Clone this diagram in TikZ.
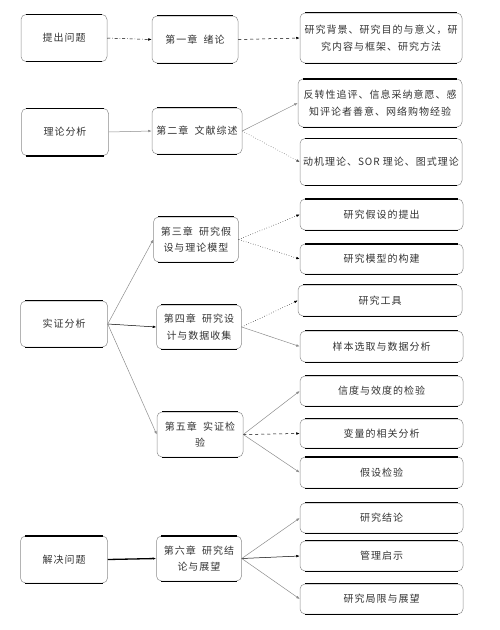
\documentclass[tikz,border=0pt]{standalone}
\usepackage{fontspec}
\setmainfont{Liberation Serif}
\newfontfamily\cjk[LetterSpace=10]{Noto Sans CJK SC}
\usetikzlibrary{arrows.meta,calc}
\tikzset{
  bx/.style={draw=black!45, line width=0.5pt, rounded corners=5pt, inner sep=0pt, align=center,
    font=\cjk\fontsize{10}{16.5}\selectfont, text=black!80},
  conn/.style={-{Latex[length=3.5pt,width=2.6pt]}, line width=0.5pt},
  gr/.style={conn, draw=black!45},
  bk/.style={conn, draw=black},
  dt/.style={conn, draw=black, dotted},
  ds/.style={conn, draw=black, dashed},
  dd/.style={conn, draw=black, dash dot},
}
\newcommand{\bxline}[3]{\draw[line width=#3] ($(#1.#2 west)+(5pt,0)$) -- ($(#1.#2 east)+(-5pt,0)$);}
\begin{document}
\begin{tikzpicture}[x=1pt,y=-1pt]
\useasboundingbox (0,0) rectangle (499,630);
% left column
\node[bx, minimum width=86pt, minimum height=47pt] (a1) at (64,38) {提出问题};
\node[bx, minimum width=87pt, minimum height=47pt] (a2) at (65,132) {理论分析};
\node[bx, minimum width=87pt, minimum height=46pt] (a3) at (64,324) {实证分析};
\node[bx, minimum width=87pt, minimum height=47pt] (a4) at (64,559.5) {解决问题};
% middle column
\node[bx, minimum width=86pt, minimum height=47pt] (c1) at (195,39.5) {第一章\ \ 绪论};
\node[bx, minimum width=90pt, minimum height=46pt] (c2) at (197,131) {第二章\ \ 文献综述};
\node[bx, minimum width=85pt, minimum height=45pt] (c3) at (196,239.5) {第三章\ \ 研究假\\设与理论模型};
\node[bx, minimum width=85pt, minimum height=44pt] (c4) at (199,327) {第四章\ \ 研究设\\计与数据收集};
\node[bx, minimum width=86pt, minimum height=45pt] (c5) at (200,434.5) {第五章\ \ 实证检\\验};
\node[bx, minimum width=85pt, minimum height=45pt] (c6) at (199,558.5) {第六章\ \ 研究结\\论与展望};
% right column
\node[bx, minimum width=162pt, minimum height=50pt] (r1) at (381,38) {研究背景、研究目的与意义，研\\究内容与框架、研究方法};
\node[bx, minimum width=164pt, minimum height=48pt] (r2) at (380,103) {反转性追评、信息采纳意愿、感\\知评论者善意、网络购物经验};
\node[bx, minimum width=162pt, minimum height=47pt] (r3) at (381,162) {动机理论、SOR 理论、图式理论};
\node[bx, minimum width=163pt, minimum height=31pt] (r4) at (381.5,214.5) {研究假设的提出};
\node[bx, minimum width=163pt, minimum height=30pt] (r5) at (381.5,259) {研究模型的构建};
\node[bx, minimum width=164pt, minimum height=31pt] (r6) at (380,300.5) {研究工具};
\node[bx, minimum width=163pt, minimum height=31pt] (r7) at (381.5,346.5) {样本选取与数据分析};
\node[bx, minimum width=163pt, minimum height=30pt] (r8) at (381.5,391) {信度与效度的检验};
\node[bx, minimum width=163pt, minimum height=29pt] (r9) at (381.5,433.5) {变量的相关分析};
\node[bx, minimum width=163pt, minimum height=31pt] (r10) at (381.5,472.5) {假设检验};
\node[bx, minimum width=163pt, minimum height=30pt] (r11) at (381.5,518) {研究结论};
\node[bx, minimum width=163pt, minimum height=30pt] (r12) at (381.5,556) {管理启示};
\node[bx, minimum width=163pt, minimum height=30pt] (r13) at (381.5,599) {研究局限与展望};
% black top/bottom edges of boxes
\foreach \n in {a1,a2,a3,a4,c1,c2,c3,c4,c5,c6,r1,r2,r3,r4,r5,r6,r7,r8,r9,r10,r11,r12,r13}{
  \bxline{\n}{north}{0.6pt}
  \bxline{\n}{south}{0.6pt}
}
\bxline{a2}{south}{1.5pt}
\bxline{c2}{south}{1.5pt}
\bxline{r2}{north}{1.5pt}
\bxline{r2}{south}{1.5pt}
\bxline{r3}{south}{1.2pt}
\bxline{r4}{north}{1.5pt}
\bxline{r4}{south}{1.5pt}
\bxline{r5}{north}{1.5pt}
\bxline{r5}{south}{1.5pt}
\bxline{c5}{south}{1.5pt}
\bxline{r8}{south}{1.2pt}
\bxline{r10}{north}{1.5pt}
\bxline{r10}{south}{1.5pt}
\bxline{a4}{north}{1.5pt}
\bxline{c6}{north}{1.5pt}
% connectors left -> middle
\draw[dd] (a1.east) -- (c1.west);
\draw[gr] (a2.east) -- (c2.west);
\draw[gr] (a3.east) -- (c3.west);
\draw[bk] (a3.east) -- (c4.west);
\draw[gr] (a3.east) -- (c5.west);
\draw[bk, line width=1.3pt] (a4.east) -- (c6.west);
% middle -> right
\draw[ds] (c1.east) -- (r1.west);
\draw[gr] (c2.east) -- (r2.west);
\draw[dt, draw=black!70] (c2.east) -- (r3.west);
\draw[dt] (c3.east) -- (r4.west);
\draw[dt] (c3.east) -- (r5.west);
\draw[dt] (c4.east) -- (r6.west);
\draw[gr] (c4.east) -- (r7.west);
\draw[gr] (c5.east) -- (r8.west);
\draw[ds] (c5.east) -- (r9.west);
\draw[gr] (c5.east) -- (r10.west);
\draw[gr] (c6.east) -- (r11.west);
\draw[bk] (c6.east) -- (r12.west);
\draw[gr] (c6.east) -- (r13.west);
\end{tikzpicture}
\end{document}
